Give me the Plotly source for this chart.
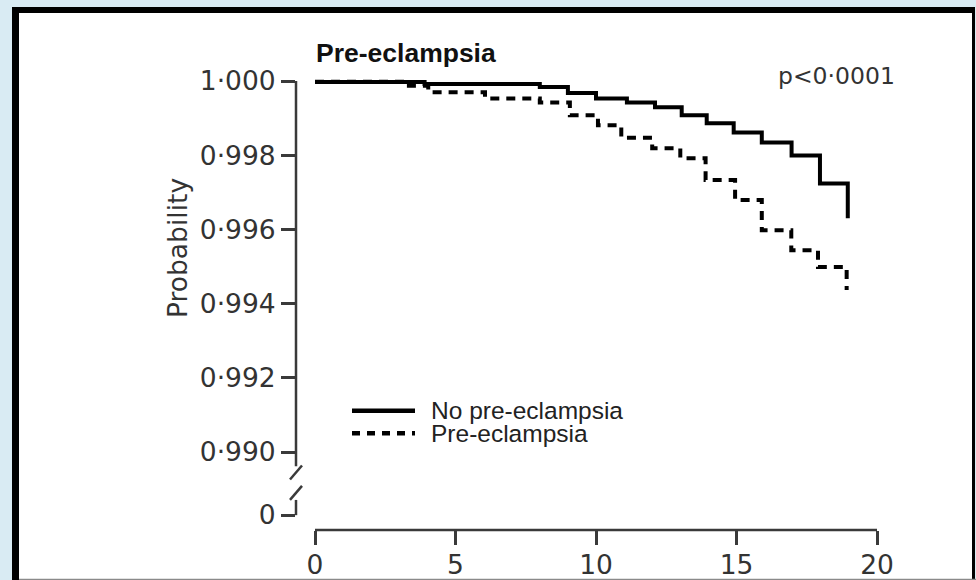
import plotly.graph_objects as go

# Kaplan-Meier style survival estimates (step functions), years of follow-up
years_no_pe = [0, 3.9, 8.0, 9.0, 10.0, 11.1, 12.1, 13.05, 13.94, 14.9, 15.9, 16.96, 17.97, 18.96]
surv_no_pe = [0.99997, 0.99992, 0.99984, 0.99968, 0.99953, 0.99942, 0.99929, 0.99908,
              0.99886, 0.99861, 0.99834, 0.99799, 0.99724, 0.99630]

years_pe = [0, 3.26, 4.03, 6.05, 8.0, 9.07, 10.07, 10.9, 12.0, 13.0, 13.9, 14.95, 15.9,
            16.95, 17.9, 18.92]
surv_pe = [0.99998, 0.99987, 0.99970, 0.99953, 0.99942, 0.99908, 0.99881, 0.99847,
           0.99819, 0.99792, 0.99733, 0.99679, 0.99598, 0.99544, 0.99499, 0.99437]

series_names = ["No pre-eclampsia", "Pre-eclampsia"]
x_ticks = [0, 5, 10, 15, 20]
y_ticks = [0.990, 0.992, 0.994, 0.996, 0.998, 1.000]
y_zero_pos = 0.9883          # where the "0" label sits below the axis break
title_text = "Pre-eclampsia"
p_value_text = "p<0·0001"
y_title = "Probability"

# ---- page geometry (pixels) ----
W, H = 976, 580
ML, MR, MT, MB = 296, 99, 60, 50
PW, PH = W - ML - MR, H - MT - MB


def px(xp):
    return (xp - ML) / PW


def py(yp):
    return (H - MB - yp) / PH


def fmt(v):
    return f"{v:.3f}".replace(".", "·")


TICK_FONT = dict(family="DejaVu Sans", size=26.5, color="#333333")
AX_COLOR = "#3a3a3a"

fig = go.Figure()
fig.add_trace(go.Scatter(x=years_no_pe, y=surv_no_pe, mode="lines", name=series_names[0],
                         line=dict(shape="hv", color="black", width=4)))
fig.add_trace(go.Scatter(x=years_pe, y=surv_pe, mode="lines", name=series_names[1],
                         line=dict(shape="hv", color="black", width=4, dash="9px,7px")))

shapes = [
    # framed panel
    dict(type="rect", xref="paper", yref="paper", x0=px(12), x1=px(975), y0=py(7), y1=py(590),
         fillcolor="black", line=dict(width=0), layer="below"),
    dict(type="rect", xref="paper", yref="paper", x0=px(19), x1=px(972), y0=py(13), y1=py(579),
         fillcolor="white", line=dict(width=0), layer="below"),
    dict(type="line", xref="paper", yref="paper", x0=px(19), x1=px(976), y0=py(579.5), y1=py(579.5),
         line=dict(color="#8a8a8a", width=1.5), layer="below"),
    # x axis line spanning the tick range
    dict(type="line", xref="x", yref="paper", x0=x_ticks[0], x1=x_ticks[-1], y0=0, y1=0,
         line=dict(color=AX_COLOR, width=2.5)),
    # y axis line above the break
    dict(type="line", xref="paper", yref="y", x0=0, x1=0, y0=y_ticks[-1], y1=0.98962,
         line=dict(color=AX_COLOR, width=2.5)),
    # y axis stub below the break
    dict(type="line", xref="paper", yref="y", x0=0, x1=0, y0=0.98871, y1=y_zero_pos,
         line=dict(color=AX_COLOR, width=2.5)),
]
# axis break marks
for yc in (0.98945, 0.98890):
    shapes.append(dict(type="line", xref="paper", yref="y", xsizemode="pixel", ysizemode="pixel",
                       xanchor=0, yanchor=yc, x0=-6, x1=6, y0=-7, y1=7,
                       line=dict(color=AX_COLOR, width=2.5)))
# legend samples
shapes.append(dict(type="line", xref="paper", yref="paper", x0=px(352), x1=px(415),
                   y0=py(410.7), y1=py(410.7), line=dict(color="black", width=4.5)))
shapes.append(dict(type="line", xref="paper", yref="paper", x0=px(352), x1=px(415),
                   y0=py(433.3), y1=py(433.3), line=dict(color="black", width=4.5, dash="8px,7px")))

annotations = [
    dict(text=f"<b>{title_text}</b>", xref="paper", yref="paper", x=px(314), y=py(52.5),
         xanchor="left", yanchor="middle", showarrow=False,
         font=dict(family="Liberation Sans", size=26.5, color="#111111")),
    dict(text=p_value_text, xref="paper", yref="paper", x=px(897), y=py(76),
         xanchor="right", yanchor="middle", showarrow=False,
         font=dict(family="DejaVu Sans", size=23.5, color="#333333")),
    dict(text=y_title, xref="paper", yref="paper", x=px(177), y=py(248), textangle=-90,
         xanchor="center", yanchor="middle", showarrow=False, font=TICK_FONT),
    dict(text=series_names[0], xref="paper", yref="paper", x=px(429), y=py(410),
         xanchor="left", yanchor="middle", showarrow=False,
         font=dict(family="Liberation Sans", size=24.5, color="#222222")),
    dict(text=series_names[1], xref="paper", yref="paper", x=px(429), y=py(433),
         xanchor="left", yanchor="middle", showarrow=False,
         font=dict(family="Liberation Sans", size=24.5, color="#222222")),
]

fig.update_layout(
    width=W, height=H,
    margin=dict(l=ML, r=MR, t=MT, b=MB, pad=0),
    paper_bgcolor="#d9ebf3",
    plot_bgcolor="rgba(0,0,0,0)",
    showlegend=False,
    shapes=shapes,
    annotations=annotations,
    xaxis=dict(range=[-0.676, 20], tickvals=x_ticks, ticktext=[str(v) for v in x_ticks],
               ticks="outside", ticklen=14, tickwidth=2.5, tickcolor=AX_COLOR,
               ticklabelstandoff=-3,
               showline=False, showgrid=False, zeroline=False, automargin=False,
               tickfont=TICK_FONT),
    yaxis=dict(range=[0.98790, 1.000566],
               tickvals=[y_zero_pos] + y_ticks,
               ticktext=["0"] + [fmt(v) for v in y_ticks],
               ticks="outside", ticklen=14, tickwidth=2.5, tickcolor=AX_COLOR,
               showline=False, showgrid=False, zeroline=False, automargin=False,
               tickfont=TICK_FONT),
)

fig.write_html("out.html")
